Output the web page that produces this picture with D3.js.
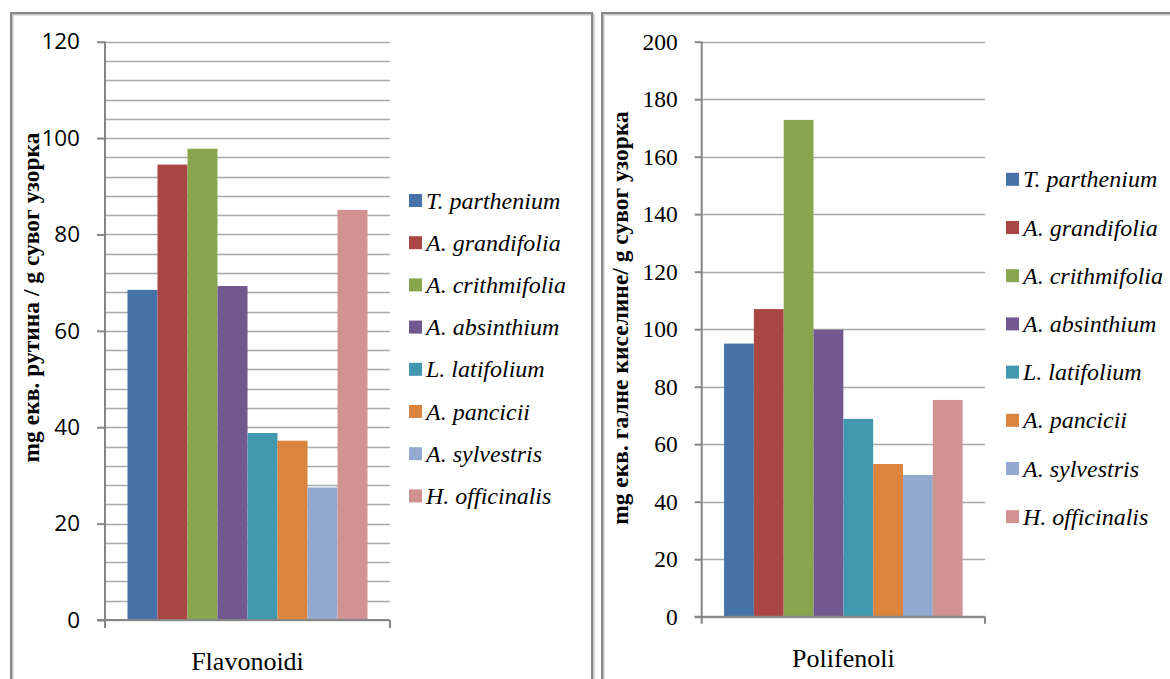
<!DOCTYPE html>
<html>
<head>
<meta charset="utf-8">
<script src="https://cdn.jsdelivr.net/npm/d3@7"></script>
<style>
  html, body { margin: 0; padding: 0; background: #ffffff; }
  svg { display: block; }
</style>
</head>
<body>
<svg id="chart" width="1170" height="679"></svg>
<script>
// Species shown in both panels (legend order = bar order)
const species = [
  "T. parthenium", "A. grandifolia", "A. crithmifolia", "A. absinthium",
  "L. latifolium", "A. pancicii", "A. sylvestris", "H. officinalis"
];
const seriesColors = [
  "#4572A7", "#AA4643", "#89A54E", "#71588F",
  "#4198AF", "#DB843D", "#93A9CF", "#D19392"
];

// Flavonoids, mg rutin eq. / g dry sample
const flavonoidi = [68.5, 94.5, 97.8, 69.3, 38.8, 37.2, 27.5, 85.1];
// Polyphenols, mg gallic acid eq. / g dry sample
const polifenoli = [95.0, 107.0, 172.8, 99.8, 68.8, 53.1, 49.3, 75.4];

const flavTicks = [0, 20, 40, 60, 80, 100, 120];
const flavMinorTicks = d3.range(0, 121, 4);
const polyTicks = [0, 20, 40, 60, 80, 100, 120, 140, 160, 180, 200];

const SERIF = '"Liberation Serif"';
const SANS = '"Open Sans"';

const svg = d3.select("#chart");

// Panel frames
function frame(x, y, w, h) {
  svg.append("rect").attr("x", x + 1.5).attr("y", y + 1.5).attr("width", w).attr("height", h)
    .attr("fill", "none").attr("stroke", "#c4c4c4").attr("stroke-width", 2);
  svg.append("rect").attr("x", x).attr("y", y).attr("width", w).attr("height", h)
    .attr("fill", "none").attr("stroke", "#888888").attr("stroke-width", 2);
}
frame(11, 13, 581, 700);
frame(602, 13, 600, 700);

function drawPanel(cfg) {
  const g = svg.append("g");
  const y = d3.scaleLinear().domain(cfg.domain).range([cfg.bottom, cfg.top]);
  const x = d3.scaleBand().domain(species).range([cfg.left, cfg.right])
    .paddingInner(0).paddingOuter(0.75);

  // gridlines
  g.append("g").selectAll("line").data(cfg.grid).join("line")
    .attr("x1", cfg.left).attr("x2", cfg.right)
    .attr("y1", d => Math.round(y(d)) + 0.5).attr("y2", d => Math.round(y(d)) + 0.5)
    .attr("stroke", "#a9a9a9").attr("stroke-width", 1.3);

  // bars
  g.append("g").selectAll("rect").data(cfg.values).join("rect")
    .attr("x", (d, i) => x(species[i]))
    .attr("width", x.bandwidth())
    .attr("y", d => y(d))
    .attr("height", d => y(0) - y(d))
    .attr("fill", (d, i) => seriesColors[i]);

  // y axis
  const yAxis = d3.axisLeft(y).tickValues(cfg.ticks).tickSize(cfg.tick).tickPadding(cfg.pad);
  const ya = g.append("g").attr("transform", `translate(${cfg.left},0)`).call(yAxis);
  ya.select(".domain").attr("stroke", "#868686").attr("stroke-width", 2)
    .attr("d", `M0,${cfg.top}V${cfg.bottom}`);
  ya.selectAll(".tick line").attr("stroke", "#868686").attr("stroke-width", 2);
  ya.selectAll(".tick text")
    .style("font-family", cfg.tickFont)
    .style("font-size", cfg.tickSize + "px")
    .attr("fill", "#000");

  // x axis with end ticks
  const xa = g.append("g");
  xa.append("path")
    .attr("d", `M${cfg.left - cfg.tick},${y(0)}H${cfg.right}M${cfg.left},${y(0)}v${cfg.tick}M${cfg.right},${y(0)}v${cfg.tick}`)
    .attr("stroke", "#868686").attr("stroke-width", 2).attr("fill", "none");
  xa.append("text")
    .attr("x", (cfg.left + cfg.right) / 2).attr("y", cfg.catY)
    .attr("text-anchor", "middle")
    .style("font-family", SERIF)
    .style("font-size", "26px")
    .text(cfg.category);

  // y axis title
  g.append("text")
    .attr("transform", `translate(${cfg.titleX},${cfg.titleY}) rotate(-90)`)
    .attr("text-anchor", "middle")
    .style("font-family", SERIF)
    .style("font-weight", "bold")
    .style("font-size", "23.5px")
    .text(cfg.title);

  // legend
  const lg = g.append("g");
  const item = lg.selectAll("g").data(species).join("g")
    .attr("transform", (d, i) => `translate(${cfg.legX},${cfg.legY + i * cfg.legStep})`);
  item.append("rect").attr("x", 0).attr("y", -6.5).attr("width", 13).attr("height", 13)
    .attr("fill", (d, i) => seriesColors[i]);
  item.append("text").attr("x", 17).attr("y", 8)
    .style("font-family", SERIF)
    .style("font-style", "italic")
    .style("font-size", "24px")
    .text(d => d);
}

drawPanel({
  values: flavonoidi, domain: [0, 120], ticks: flavTicks, grid: flavMinorTicks,
  left: 105, right: 390, top: 41.7, bottom: 620,
  tick: 8, pad: 17, tickFont: SANS, tickSize: 22.5,
  category: "Flavonoidi", catY: 670,
  title: "mg екв. рутина / g сувог узорка", titleX: 38.5, titleY: 297.5,
  legX: 409, legY: 200.5, legStep: 42.2
});

drawPanel({
  values: polifenoli, domain: [0, 200], ticks: polyTicks, grid: polyTicks,
  left: 701.7, right: 985, top: 41.7, bottom: 616.7,
  tick: 7, pad: 17, tickFont: SERIF, tickSize: 23.5,
  category: "Polifenoli", catY: 667,
  title: "mg екв. галне киселине/ g сувог узорка", titleX: 628, titleY: 318,
  legX: 1006, legY: 179.3, legStep: 48.2
});
</script>
</body>
</html>
